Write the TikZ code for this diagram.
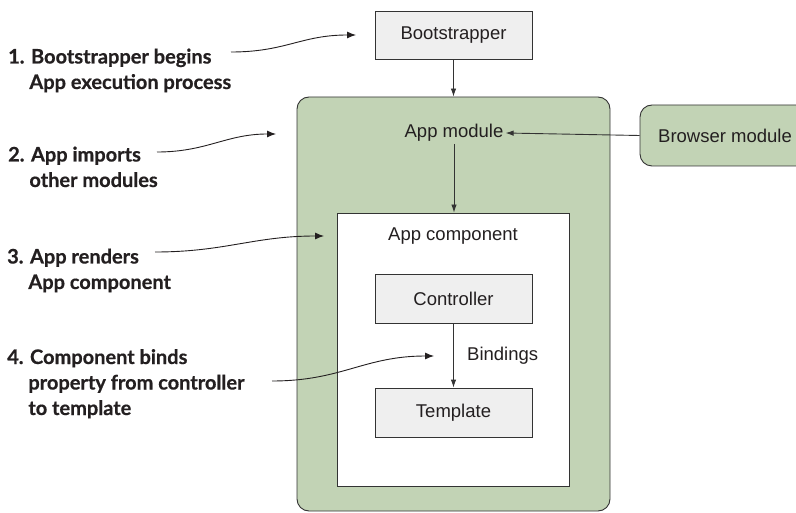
\documentclass[tikz,border=0pt]{standalone}
\usepackage{fontspec}
\setmainfont{Liberation Sans}
\newfontfamily\labelfont[BoldFeatures={FakeBold=0.6}]{Lato}
\usetikzlibrary{arrows.meta}
\definecolor{modgreen}{HTML}{C2D3B5}
\definecolor{boxgray}{HTML}{EFEFEF}
\definecolor{lin}{HTML}{333333}
\definecolor{txt}{HTML}{231F20}
\begin{document}
\begin{tikzpicture}[x=1pt,y=-1pt,
  every node/.style={text=txt},
  boxtext/.style={font=\fontsize{18.5}{22}\selectfont},
  graybox/.style={draw=lin,line width=0.9pt,fill=boxgray,boxtext,inner sep=0pt},
  arr/.style={draw=lin,line width=0.9pt,-{Latex[length=8pt,width=5.5pt]}},
  callout/.style={draw=txt,line width=0.9pt,-{Latex[length=9pt,width=7pt]}},
  lbl/.style={font=\labelfont\bfseries\fontsize{20}{25.5}\selectfont,align=left,anchor=base west,inner sep=0pt}]
\useasboundingbox (0,0) rectangle (796,513);
% main green box
\node[draw=lin,line width=0.9pt,fill=modgreen,rounded corners=12pt,minimum width=313pt,minimum height=414pt,inner sep=0pt] (appbox) at (453.5,304) {};
% browser module
\node[draw=lin,line width=0.9pt,fill=modgreen,rounded corners=12pt,minimum width=170pt,minimum height=61pt,inner sep=0pt,boxtext] (browser) at (725,135.5) {Browser module};
% bootstrapper
\node[graybox,minimum width=157pt,minimum height=48pt] (boot) at (453.5,35) {Bootstrapper};
% app module text
\node[boxtext,inner sep=2pt] (appmod) at (454,133) {App module};
% white component box
\node[draw=lin,line width=0.9pt,fill=white,minimum width=232pt,minimum height=273pt,inner sep=0pt] (comp) at (453,349.5) {};
\node[boxtext,inner sep=0pt] (comptitle) at (453,236) {App component};
\node[graybox,minimum width=157pt,minimum height=49pt] (ctrl) at (453.5,298.5) {Controller};
\node[graybox,minimum width=157pt,minimum height=49pt] (tmpl) at (453.5,412.5) {Template};
\node[boxtext,anchor=west,inner sep=0pt] (bind) at (467,356) {Bindings};
% connectors
\draw[arr] (boot.south) -- (appbox.north);
\draw[arr] (browser.west) -- (appmod.east);
\draw[arr] (appmod.south) -- (comp.north -| appmod);
\draw[arr] (ctrl.south) -- (tmpl.north);
% labels
\node[lbl] (l1) at (8,89) {1. Bootstrapper begins\\\phantom{1.\ }App execution process};
\node[lbl] (l2) at (8,187) {2. App imports\\\phantom{2.\ }other modules};
\node[lbl] (l3) at (7,289) {3. App renders\\\phantom{3.\ }App component};
\node[lbl] (l4) at (7,415) {4. Component binds\\\phantom{4.\ }property from controller\\\phantom{4.\ }to template};
% callout arrows
\coordinate (s1) at (231,52); \coordinate (e1) at (356,35);
\coordinate (s2) at (157,152); \coordinate (e2) at (276,134);
\coordinate (s3) at (155,252); \coordinate (e3) at (324,236);
\coordinate (s4) at (272,381); \coordinate (e4) at (434,356);
\draw[callout] (s1) .. controls +(55,0) and +(-55,0) .. (e1);
\draw[callout] (s2) .. controls +(50,0) and +(-50,0) .. (e2);
\draw[callout] (s3) .. controls +(70,0) and +(-70,0) .. (e3);
\draw[callout] (s4) .. controls +(70,0) and +(-70,0) .. (e4);
\end{tikzpicture}
\end{document}
